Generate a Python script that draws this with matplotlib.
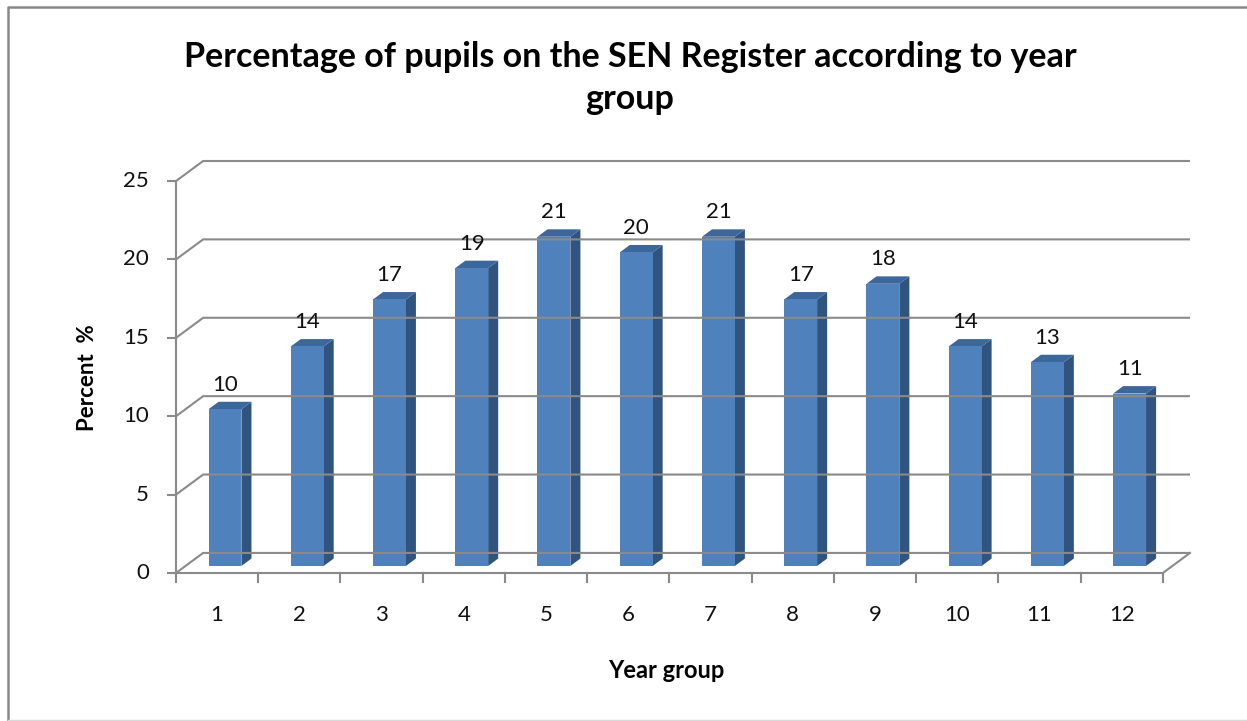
import numpy as np
import matplotlib
matplotlib.use("Agg")
import matplotlib.pyplot as plt
from matplotlib.patches import Polygon
from matplotlib.lines import Line2D

years = [str(i) for i in range(1, 13)]
percent = [10, 14, 17, 19, 21, 20, 21, 17, 18, 14, 13, 11]
y_ticks = [0, 5, 10, 15, 20, 25]

title = "Percentage of pupils on the SEN Register according to year\ngroup"
xlabel = "Year group"
ylabel = "Percent  %"

plt.rcParams['font.family'] = ['Lato', 'DejaVu Sans']

W, H = 1247, 721
fig = plt.figure(figsize=(W / 100, H / 100), dpi=100)
fig.patch.set_facecolor("white")

# oblique "3d" depth offset, in data units
DX = 0.33
DY = 1.28
f0, f1 = 0.35, 0.72          # bar front / back depth fraction
bar_w = 0.40
n = len(years)
ymax = y_ticks[-1]

# plot area: front-left origin to back-top-right corner
x0, x1 = 176, 1190
ybot, ytop = 573, 161
ax = fig.add_axes([x0 / W, 1 - ybot / H, (x1 - x0) / W, (ybot - ytop) / H])
ax.set_xlim(0, n + DX)
ax.set_ylim(0, ymax + DY)
ax.axis("off")

grid_c = "#8a8a8a"
lw = 1.5

# back wall gridlines + left wall diagonals
for v in y_ticks:
    ax.plot([0, DX, n + DX], [v, v + DY, v + DY], color=grid_c, lw=lw,
            solid_capstyle="butt", clip_on=False)
    ax.plot([-0.1, 0], [v, v], color=grid_c, lw=lw, clip_on=False)

# y axis, floor front and right edge
ax.plot([0, 0], [0, ymax], color=grid_c, lw=lw, clip_on=False)
ax.plot([0, n, n + DX], [0, 0, DY], color=grid_c, lw=lw, clip_on=False)
for i in range(n + 1):
    ax.plot([i, i], [0, -0.6], color=grid_c, lw=lw, clip_on=False)

front_c = "#4f81bd"
side_c = "#31547f"
top_c = "#3c679b"

for i, v in enumerate(percent):
    xl = i + 0.5 - bar_w / 2 + f0 * DX - 0.02
    xr = xl + bar_w
    yb = f0 * DY
    yt = v + f0 * DY
    ddx = (f1 - f0) * DX
    ddy = (f1 - f0) * DY
    ax.add_patch(Polygon([(xr, yb), (xr + ddx, yb + ddy), (xr + ddx, yt + ddy), (xr, yt)],
                         closed=True, facecolor=side_c, edgecolor="none", clip_on=False))
    ax.add_patch(Polygon([(xl, yt), (xr, yt), (xr + ddx, yt + ddy), (xl + ddx, yt + ddy)],
                         closed=True, facecolor=top_c, edgecolor="none", clip_on=False))
    ax.add_patch(Polygon([(xl, yb), (xr, yb), (xr, yt), (xl, yt)],
                         closed=True, facecolor=front_c, edgecolor="none", clip_on=False))
    ax.text((xl + xr) / 2, yt + ddy + 0.45, str(v), ha="center", va="bottom",
            fontsize=16, color="#111111")

for v in y_ticks:
    ax.text(-0.33, v, str(v), ha="right", va="center", fontsize=16, color="#111111")

for i, lab in enumerate(years):
    ax.text(i + 0.5, -2.7, lab, ha="center", va="center", fontsize=16, color="#111111")

fig.text(666 / W, 1 - 670 / H, xlabel, ha="center", va="center",
         fontsize=17, fontweight="bold")
fig.text(87 / W, 1 - 378 / H, ylabel, ha="center", va="center", rotation=90,
         fontsize=16, fontweight="bold")
fig.text(630 / W, 1 - 78 / H, title, ha="center", va="center",
         fontsize=24.5, fontweight="bold", linespacing=1.35)

# chart border
fig.add_artist(Line2D([8 / W, 8 / W, 1.0], [0, 1 - 7 / H, 1 - 7 / H],
                      transform=fig.transFigure, color="#888888", lw=1.8))
fig.add_artist(Line2D([8 / W, 1.0], [1 / H, 1 / H],
                      transform=fig.transFigure, color="#d9d9d9", lw=1.0))

fig.savefig("out.png", dpi=100)
